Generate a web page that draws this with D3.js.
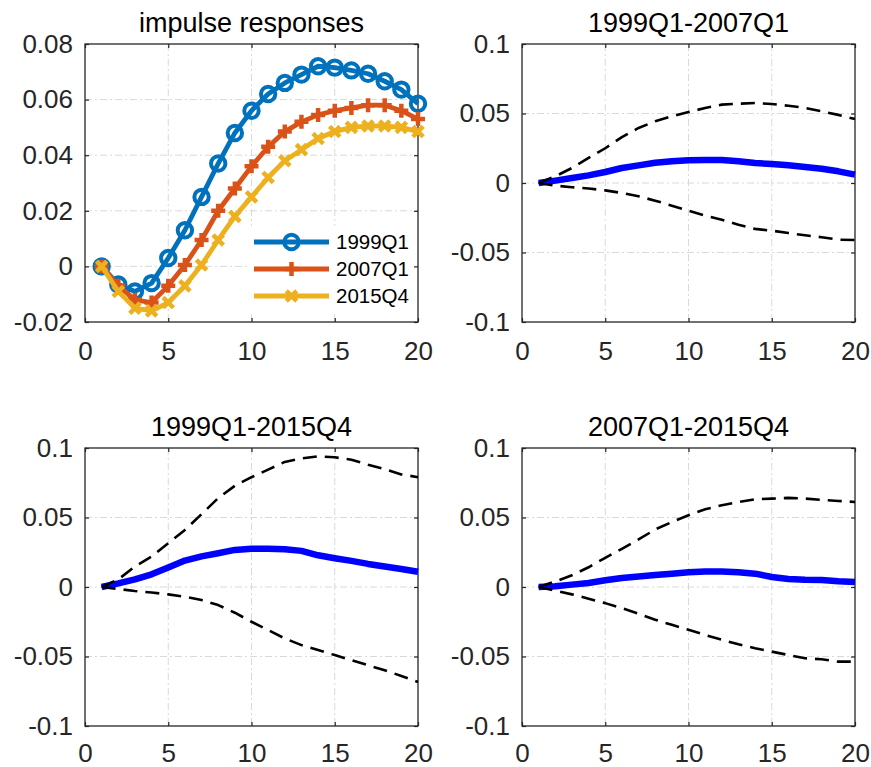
<!DOCTYPE html>
<html>
<head>
<meta charset="utf-8">
<script src="https://cdn.jsdelivr.net/npm/d3@7/dist/d3.min.js"></script>
<style>
  html, body { margin: 0; padding: 0; background: #fff; }
  svg { display: block; font-family: "Liberation Sans", Arial, Helvetica, sans-serif; }
</style>
</head>
<body>
<svg id="fig" width="871" height="767"></svg>
<script>
// Horizons 1..20
const horizon = d3.range(1, 21);

// Impulse responses at three dates
const irf1999 = [0, -0.0065, -0.009, -0.006, 0.003, 0.013, 0.025, 0.037, 0.048, 0.056,
                 0.062, 0.066, 0.069, 0.072, 0.0715, 0.0705, 0.0693, 0.0666, 0.0636, 0.0585];
const irf2007 = [0, -0.007, -0.012, -0.013, -0.007, 0.0005, 0.0095, 0.02, 0.028, 0.036,
                 0.043, 0.0485, 0.052, 0.0545, 0.056, 0.057, 0.058, 0.058, 0.056, 0.053];
const irf2015 = [0, -0.009, -0.015, -0.016, -0.013, -0.007, 0.0005, 0.0095, 0.018, 0.025,
                 0.032, 0.038, 0.042, 0.046, 0.0485, 0.05, 0.0505, 0.0505, 0.05, 0.0485];
const seriesNames = ["1999Q1", "2007Q1", "2015Q4"];

// Differences between dates: median and bands
const d9907mid = [0, 0.0017, 0.0036, 0.0055, 0.0079, 0.0108, 0.0127, 0.0146, 0.0156, 0.0163,
                  0.0165, 0.0165, 0.0156, 0.0144, 0.0137, 0.0127, 0.0115, 0.0103, 0.0084, 0.006];
const d9907hi  = [0, 0.0048, 0.0108, 0.018, 0.025, 0.033, 0.0396, 0.0444, 0.048, 0.051,
                  0.054, 0.0564, 0.057, 0.0576, 0.0568, 0.0556, 0.054, 0.0516, 0.049, 0.046];
const d9907lo  = [0, -0.0019, -0.003, -0.004, -0.0053, -0.0072, -0.0096, -0.0127, -0.0163, -0.02,
                  -0.0235, -0.0264, -0.03, -0.033, -0.0343, -0.036, -0.0376, -0.039, -0.0408, -0.041];

const d9915mid = [0, 0.0026, 0.0055, 0.0091, 0.014, 0.019, 0.022, 0.0243, 0.0267, 0.0276,
                  0.0276, 0.0272, 0.026, 0.0228, 0.0207, 0.0188, 0.0166, 0.0147, 0.013, 0.011];
const d9915hi  = [0, 0.0055, 0.0147, 0.0219, 0.0315, 0.041, 0.0524, 0.064, 0.0728, 0.079,
                  0.0844, 0.09, 0.0925, 0.094, 0.0933, 0.0916, 0.088, 0.0849, 0.081, 0.079];
const d9915lo  = [0, -0.0014, -0.0029, -0.004, -0.0053, -0.007, -0.0094, -0.013, -0.0185, -0.025,
                  -0.031, -0.037, -0.0418, -0.0454, -0.049, -0.0526, -0.0563, -0.0599, -0.064, -0.0683];

const d0715mid = [0, 0.0005, 0.0017, 0.0029, 0.0048, 0.0065, 0.0075, 0.0087, 0.0096, 0.0106,
                  0.0111, 0.0111, 0.0106, 0.0096, 0.0072, 0.0058, 0.0053, 0.0051, 0.0041, 0.0036];
const d0715hi  = [0, 0.004, 0.0084, 0.0142, 0.021, 0.0275, 0.0342, 0.0414, 0.0467, 0.0516,
                  0.0559, 0.0588, 0.0612, 0.0631, 0.0636, 0.0641, 0.0636, 0.0627, 0.0619, 0.0612];
const d0715lo  = [0, -0.0027, -0.0053, -0.0084, -0.0116, -0.0152, -0.0193, -0.0236, -0.0272, -0.0308,
                  -0.0345, -0.038, -0.0412, -0.0441, -0.0465, -0.0489, -0.0513, -0.052, -0.0537, -0.0537];

// Tick values and labels
const xTicks = [0, 5, 10, 15, 20];
const yTicksIrf = [-0.02, 0, 0.02, 0.04, 0.06, 0.08];
const yLabelsIrf = ["-0.02", "0", "0.02", "0.04", "0.06", "0.08"];
const yTicksDiff = [-0.1, -0.05, 0, 0.05, 0.1];
const yLabelsDiff = ["-0.1", "-0.05", "0", "0.05", "0.1"];

const titles = ["impulse responses", "1999Q1-2007Q1", "1999Q1-2015Q4", "2007Q1-2015Q4"];

const svg = d3.select("#fig");
const axisColor = "#262626";
const tickFont = 26;

function makePanel(box, yDomain, yTicks, yLabels, title) {
  const x = d3.scaleLinear().domain([0, 20]).range([box.left, box.right]);
  const y = d3.scaleLinear().domain(yDomain).range([box.bottom, box.top]);
  const g = svg.append("g");

  // dash-dot grid
  const grid = g.append("g").attr("stroke", "#d9d9d9").attr("stroke-width", 1)
    .attr("stroke-dasharray", "7,3,2,3");
  xTicks.slice(1, -1).forEach(t => grid.append("line")
    .attr("x1", x(t)).attr("x2", x(t)).attr("y1", box.top).attr("y2", box.bottom));
  yTicks.slice(1, -1).forEach(t => grid.append("line")
    .attr("x1", box.left).attr("x2", box.right).attr("y1", y(t)).attr("y2", y(t)));

  // axes with inward ticks on all four sides
  const fmtY = d => yLabels[yTicks.indexOf(d)];
  const ax = [
    g.append("g").attr("transform", `translate(0,${box.bottom})`)
      .call(d3.axisBottom(x).tickValues(xTicks).tickSizeInner(-4).tickSizeOuter(0).tickPadding(box.xPad)),
    g.append("g").attr("transform", `translate(${box.left},0)`)
      .call(d3.axisLeft(y).tickValues(yTicks).tickFormat(fmtY).tickSizeInner(-4).tickSizeOuter(0).tickPadding(12)),
    g.append("g").attr("transform", `translate(0,${box.top})`)
      .call(d3.axisTop(x).tickValues(xTicks).tickFormat("").tickSizeInner(-4).tickSizeOuter(0)),
    g.append("g").attr("transform", `translate(${box.right},0)`)
      .call(d3.axisRight(y).tickValues(yTicks).tickFormat("").tickSizeInner(-4).tickSizeOuter(0))
  ];
  ax.forEach(a => {
    a.select(".domain").remove();
    a.selectAll("line").attr("stroke", axisColor).attr("stroke-width", 1.2);
    a.selectAll("text").attr("fill", axisColor).attr("font-size", tickFont)
      .attr("font-family", "Liberation Sans, Arial, sans-serif");
  });

  g.append("rect").attr("x", box.left).attr("y", box.top)
    .attr("width", box.right - box.left).attr("height", box.bottom - box.top)
    .attr("fill", "none").attr("stroke", axisColor).attr("stroke-width", 1.3);

  g.append("text").attr("x", (box.left + box.right) / 2).attr("y", box.top - 12)
    .attr("text-anchor", "middle").attr("font-size", 27).attr("fill", "#000").text(title);

  const plot = g.append("g");
  return { x, y, plot, g };
}

function drawLine(p, values, color, width, dash) {
  const line = d3.line().x((d, i) => p.x(horizon[i])).y(d => p.y(d));
  const path = p.plot.append("path").datum(values).attr("d", line)
    .attr("fill", "none").attr("stroke", color).attr("stroke-width", width)
    .attr("stroke-linejoin", "round");
  if (dash) path.attr("stroke-dasharray", dash);
  return path;
}

function drawMarkers(p, values, color, kind) {
  const gg = p.plot.append("g").attr("stroke", color).attr("fill", "none");
  values.forEach((v, i) => addMarker(gg, p.x(horizon[i]), p.y(v), kind));
}

function addMarker(gg, cx, cy, kind) {
  if (kind === "circle") {
    gg.append("circle").attr("cx", cx).attr("cy", cy).attr("r", 7.2).attr("stroke-width", 4);
  } else if (kind === "plus") {
    const s = 7;
    gg.append("path").attr("d", `M${cx - s},${cy}H${cx + s}M${cx},${cy - s}V${cy + s}`)
      .attr("stroke-width", 4.5);
  } else {
    const s = 5.2;
    gg.append("path").attr("d", `M${cx - s},${cy - s}L${cx + s},${cy + s}M${cx - s},${cy + s}L${cx + s},${cy - s}`)
      .attr("stroke-width", 4.5);
  }
}

// Panel 1: impulse responses
const colors = ["#0072BD", "#D95319", "#EDB120"];
const kinds = ["circle", "plus", "cross"];
const irfs = [irf1999, irf2007, irf2015];
const p1 = makePanel({ left: 85, right: 418, top: 44, bottom: 322, xPad: 20 }, [-0.02, 0.08], yTicksIrf, yLabelsIrf, titles[0]);
irfs.forEach((s, k) => {
  drawLine(p1, s, colors[k], 4.8);
  drawMarkers(p1, s, colors[k], kinds[k]);
});

// legend (white background, no border)
const leg = p1.g.append("g");
leg.append("rect").attr("x", 248).attr("y", 226).attr("width", 164).attr("height", 86).attr("fill", "#fff");
const legRows = [242, 269, 296];
seriesNames.forEach((name, k) => {
  const yy = legRows[k];
  leg.append("line").attr("x1", 254).attr("x2", 329).attr("y1", yy).attr("y2", yy)
    .attr("stroke", colors[k]).attr("stroke-width", 4.8);
  const mg = leg.append("g").attr("stroke", colors[k]).attr("fill", "none");
  addMarker(mg, 291.5, yy, kinds[k]);
  leg.append("text").attr("x", 336).attr("y", yy).attr("dy", "0.36em")
    .attr("font-size", 20.5).attr("fill", "#000").text(name);
});

// Difference panels
const diffPanels = [
  { box: { left: 522, right: 855, top: 44, bottom: 322, xPad: 20 }, mid: d9907mid, hi: d9907hi, lo: d9907lo, title: titles[1] },
  { box: { left: 85, right: 418, top: 448, bottom: 726, xPad: 18 }, mid: d9915mid, hi: d9915hi, lo: d9915lo, title: titles[2] },
  { box: { left: 522, right: 855, top: 448, bottom: 726, xPad: 18 }, mid: d0715mid, hi: d0715hi, lo: d0715lo, title: titles[3] }
];
diffPanels.forEach(d => {
  const p = makePanel(d.box, [-0.1, 0.1], yTicksDiff, yLabelsDiff, d.title);
  drawLine(p, d.mid, "#0000FF", 6.5);
  drawLine(p, d.hi, "#000", 2.6, "14,8");
  drawLine(p, d.lo, "#000", 2.6, "14,8");
});
</script>
</body>
</html>
